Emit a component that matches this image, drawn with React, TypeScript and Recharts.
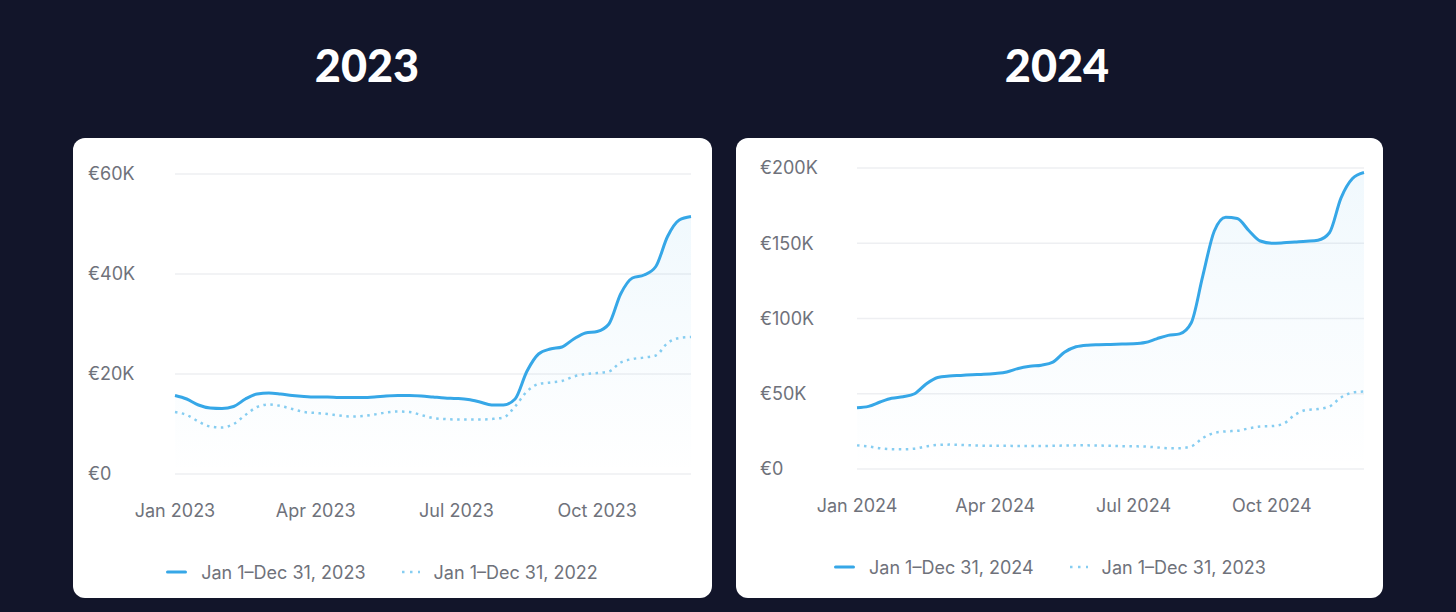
import React from 'react';
import { ComposedChart, Line, Area, XAxis, YAxis, CartesianGrid, Legend } from 'recharts';

// revenue sampled every quarter month, Jan 1 -> Dec 1 (45 points)
const rev2022 = [
  12400, 11800, 10500, 9500, 9300, 10000, 11800, 13400, 13900, 13600,
  13000, 12400, 12200, 12000, 11700, 11500, 11600, 11900, 12300, 12500,
  12400, 11800, 11200, 11000, 10900, 10900, 10900, 11000, 11300, 13500,
  16500, 18000, 18300, 18600, 19500, 20000, 20200, 20500, 22300, 23000,
  23300, 23700, 26200, 27200, 27400,
];

const rev2023 = [
  15700, 15000, 13800, 13200, 13100, 13500, 15000, 16000, 16200, 16000,
  15700, 15500, 15400, 15400, 15300, 15300, 15300, 15400, 15600, 15700,
  15700, 15600, 15400, 15200, 15100, 14900, 14400, 13800, 13800, 15000,
  20500, 24000, 25000, 25400, 27000, 28200, 28500, 30000, 36000, 39200,
  39800, 41500, 47500, 50800, 51500,
];

const rev2024 = [
  40700, 41600, 44500, 47000, 48000, 50000, 56500, 60800, 61800, 62200,
  62600, 62900, 63500, 64500, 66800, 68200, 69000, 71000, 77500, 81200,
  82300, 82600, 82800, 83000, 83200, 84000, 86500, 88800, 89800, 97000,
  128000, 158000, 167300, 166500, 158500, 151500, 150000, 150300, 150800, 151300,
  152000, 157000, 180000, 193000, 197000,
];

const tickIdx = [0, 12, 24, 36];
const ticks2023 = ['Jan 2023', 'Apr 2023', 'Jul 2023', 'Oct 2023'];
const ticks2024 = ['Jan 2024', 'Apr 2024', 'Jul 2024', 'Oct 2024'];

const yTicks2023 = [0, 20000, 40000, 60000];
const yTicks2024 = [0, 50000, 100000, 150000, 200000];

const legend2023 = ['Jan 1–Dec 31, 2023', 'Jan 1–Dec 31, 2022'];
const legend2024 = ['Jan 1–Dec 31, 2024', 'Jan 1–Dec 31, 2023'];

const BLUE = '#36a7e7';
const LIGHT = '#86cdf1';
const GREY = '#6f727b';
const FONT = 'Inter, "Noto Sans", sans-serif';
const FS = 18;

const euro = (v: number) => (v === 0 ? '€0' : `€${Math.round(v / 1000)}K`);

const LegendRow = ({ names }: { names: string[] }) => (
  <div style={{ display: 'flex', justifyContent: 'center', alignItems: 'center', height: 36, gap: 34, fontFamily: FONT, fontSize: FS, color: GREY }}>
    <div style={{ display: 'flex', alignItems: 'center' }}>
      <svg width={21} height={6}>
        <line x1={1.5} y1={3} x2={19.5} y2={3} stroke={BLUE} strokeWidth={3} strokeLinecap="round" />
      </svg>
      <span style={{ marginLeft: 14 }}>{names[0]}</span>
    </div>
    <div style={{ display: 'flex', alignItems: 'center' }}>
      <svg width={21} height={6}>
        <line x1={2} y1={3} x2={20} y2={3} stroke={LIGHT} strokeWidth={2.5} strokeDasharray="2.5 5.5" />
      </svg>
      <span style={{ marginLeft: 13 }}>{names[1]}</span>
    </div>
  </div>
);

type ChartProps = {
  id: string;
  cur: number[];
  prev: number[];
  xLabels: string[];
  yTicks: number[];
  names: string[];
  width: number;
  yWidth: number;
  labelX: number;
  margin: { top: number; right: number; left: number; bottom: number };
};

const RevenueChart = ({ id, cur, prev, xLabels, yTicks, names, width, yWidth, labelX, margin }: ChartProps) => {
  const data = cur.map((v, i) => ({ i, cur: v, prev: prev[i] }));
  const yMax = yTicks[yTicks.length - 1];
  return (
    <ComposedChart width={width} height={460} data={data} margin={margin}>
      <defs>
        <linearGradient id={id} x1="0" y1="0" x2="0" y2="1">
          <stop offset="0%" stopColor={BLUE} stopOpacity={0.12} />
          <stop offset="100%" stopColor={BLUE} stopOpacity={0} />
        </linearGradient>
      </defs>
      <CartesianGrid vertical={false} stroke="#eeeff2" strokeWidth={1.5} />
      <XAxis
        dataKey="i"
        type="number"
        domain={[0, cur.length - 1]}
        ticks={tickIdx}
        interval={0}
        tickFormatter={(v: number) => xLabels[tickIdx.indexOf(v)]}
        axisLine={false}
        tickLine={false}
        tickMargin={24}
        height={80}
        tick={{ fill: GREY, fontSize: FS, fontFamily: FONT }}
      />
      <YAxis
        domain={[0, yMax]}
        ticks={yTicks}
        width={yWidth}
        axisLine={false}
        tickLine={false}
        tick={(p: any) => (
          <text x={labelX} y={p.y} dy="0.35em" textAnchor="start" fill={GREY} fontSize={FS} fontFamily={FONT}>
            {euro(p.payload.value)}
          </text>
        )}
      />
      <Area type="monotone" dataKey="cur" stroke="none" fill={`url(#${id})`} isAnimationActive={false} activeDot={false} />
      <Line type="monotone" dataKey="prev" stroke={LIGHT} strokeWidth={2.5} strokeDasharray="2.5 4.5" dot={false} isAnimationActive={false} />
      <Line type="monotone" dataKey="cur" stroke={BLUE} strokeWidth={3} dot={false} isAnimationActive={false} />
      <Legend verticalAlign="bottom" height={36} content={() => <LegendRow names={names} />} />
    </ComposedChart>
  );
};

const titleStyle: React.CSSProperties = {
  position: 'absolute',
  top: 43,
  width: 300,
  textAlign: 'center',
  fontFamily: 'Lato, sans-serif',
  fontWeight: 900,
  fontSize: 45,
  lineHeight: '45px',
  color: '#ffffff',
};

const cardStyle: React.CSSProperties = {
  position: 'absolute',
  top: 138,
  height: 460,
  background: '#ffffff',
  borderRadius: 12,
  overflow: 'hidden',
};

export default function App() {
  return (
    <div style={{ position: 'fixed', left: 0, top: 0, width: 1456, height: 612, background: '#12152a' }}>
      <div style={{ ...titleStyle, left: 217 }}>2023</div>
      <div style={{ ...titleStyle, left: 907 }}>2024</div>

      <div style={{ ...cardStyle, left: 73, width: 639 }}>
        <RevenueChart
          id="fill2023"
          cur={rev2023}
          prev={rev2022}
          xLabels={ticks2023}
          yTicks={yTicks2023}
          names={legend2023}
          width={639}
          yWidth={102}
          labelX={15}
          margin={{ top: 36, right: 21, left: 0, bottom: 8 }}
        />
      </div>

      <div style={{ ...cardStyle, left: 736, width: 647 }}>
        <RevenueChart
          id="fill2024"
          cur={rev2024}
          prev={rev2023}
          xLabels={ticks2024}
          yTicks={yTicks2024}
          names={legend2024}
          width={647}
          yWidth={121}
          labelX={24}
          margin={{ top: 30, right: 19, left: 0, bottom: 13 }}
        />
      </div>
    </div>
  );
}
